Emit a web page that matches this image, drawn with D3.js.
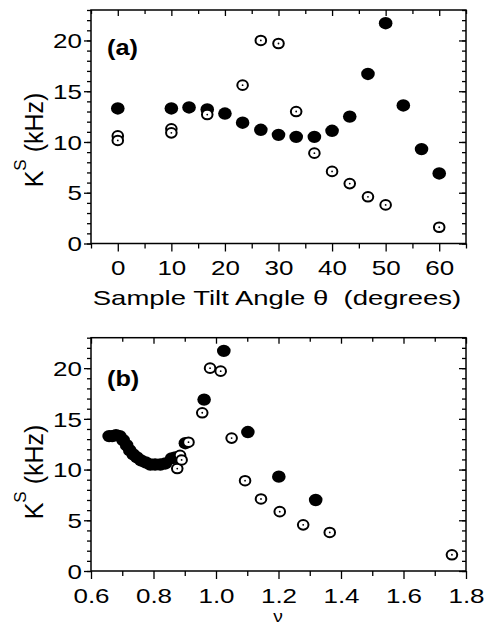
<!DOCTYPE html>
<html>
<head>
<meta charset="utf-8">
<script src="https://cdn.jsdelivr.net/npm/d3@7"></script>
<style>
  body { margin: 0; background: #fff; }
  svg { display: block; font-family: "Liberation Sans", Arial, Helvetica, sans-serif; }
</style>
</head>
<body>
<svg id="chart" width="488" height="625"></svg>
<script>
// Panel (a): K^S versus sample tilt angle
const thetaFilled = [0, 10, 13.3, 16.7, 20, 23.3, 26.7, 30, 33.3, 36.7, 40, 43.3, 46.7, 50, 53.3, 56.7, 60];
const ksFilledA   = [13.3, 13.3, 13.4, 13.2, 12.8, 11.9, 11.2, 10.7, 10.5, 10.5, 11.1, 12.5, 16.7, 21.7, 13.6, 9.3, 6.9];
const thetaOpen   = [0, 0, 10, 10, 16.7, 23.3, 26.7, 30, 33.3, 36.7, 40, 43.3, 46.7, 50, 60];
const ksOpenA     = [10.6, 10.15, 11.3, 10.9, 12.7, 15.6, 20.0, 19.7, 13.0, 8.9, 7.1, 5.9, 4.6, 3.8, 1.6];

// Panel (b): K^S versus nu
const nuFilled  = [0.658, 0.668, 0.680, 0.692, 0.703, 0.714, 0.724, 0.735, 0.747, 0.760, 0.775, 0.790, 0.805, 0.822, 0.838, 0.858, 0.870, 0.902, 0.962, 1.025, 1.102, 1.201, 1.319];
const ksFilledB = [13.3, 13.3, 13.4, 13.3, 12.9, 12.4, 11.9, 11.5, 11.2, 10.9, 10.7, 10.5, 10.5, 10.5, 10.6, 11.1, 11.2, 12.6, 16.9, 21.7, 13.7, 9.3, 7.0];
const nuOpen    = [0.876, 0.885, 0.890, 0.912, 0.956, 0.981, 1.015, 1.050, 1.093, 1.144, 1.204, 1.279, 1.364, 1.755];
const ksOpenB   = [10.1, 11.4, 10.95, 12.7, 15.6, 20.0, 19.7, 13.1, 8.9, 7.1, 5.85, 4.55, 3.8, 1.6];

// Ticks
const thetaTicks      = [0, 10, 20, 30, 40, 50, 60];
const thetaMinorTicks = [-5, 5, 15, 25, 35, 45, 55, 65];
const nuTicks         = [0.6, 0.8, 1.0, 1.2, 1.4, 1.6, 1.8];
const nuMinorTicks    = [0.7, 0.9, 1.1, 1.3, 1.5, 1.7];
const ksTicks         = [0, 5, 10, 15, 20];
const ksMinorTicks    = d3.range(0, 24, 1);

const LEFT = 91;
const RIGHT = 466;
const TEXT_STRETCH = 1.3;

const svg = d3.select('#chart');

function drawPanel(cfg) {
    const width = RIGHT - LEFT;
    const height = cfg.bottom - cfg.top;

    const x = d3.scaleLinear().domain(cfg.xDomain).range([0, width]);
    const y = d3.scaleLinear().domain([0, 23]).range([height, 0]);

    const g = svg.append('g').attr('transform', `translate(${LEFT},${cfg.top})`);

    // ticks on all four sides
    const axes = [
        { axis: d3.axisBottom(x).tickValues(cfg.xTicks).tickSize(8).tickFormat(cfg.xFormat), pos: `translate(0,${height})`, labels: 'bottom' },
        { axis: d3.axisBottom(x).tickValues(cfg.xMinor).tickSize(5).tickFormat(''), pos: `translate(0,${height})` },
        { axis: d3.axisTop(x).tickValues(cfg.xTicks).tickSize(-6).tickFormat(''), pos: 'translate(0,0)' },
        { axis: d3.axisTop(x).tickValues(cfg.xMinor).tickSize(-4).tickFormat(''), pos: 'translate(0,0)' },
        { axis: d3.axisLeft(y).tickValues(ksTicks).tickSize(7).tickFormat(d3.format('d')), pos: 'translate(0,0)', labels: 'left' },
        { axis: d3.axisLeft(y).tickValues(ksMinorTicks).tickSize(4).tickFormat(''), pos: 'translate(0,0)' },
        { axis: d3.axisRight(y).tickValues(ksTicks).tickSize(-7).tickFormat(''), pos: `translate(${width},0)` },
        { axis: d3.axisRight(y).tickValues(ksMinorTicks).tickSize(-4).tickFormat(''), pos: `translate(${width},0)` }
    ];

    axes.forEach(a => {
        const ag = g.append('g').attr('transform', a.pos).call(a.axis);
        ag.select('.domain').remove();
        ag.selectAll('line').attr('stroke', '#000').attr('stroke-width', 1.3);
        const txt = ag.selectAll('text')
            .attr('fill', '#000')
            .attr('font-size', 20)
            .attr('font-family', null);
        if (a.labels === 'bottom') {
            txt.attr('y', 32).attr('dy', 0)
                .attr('transform', `scale(${TEXT_STRETCH},1)`);
        } else if (a.labels === 'left') {
            txt.attr('x', -9 / TEXT_STRETCH).attr('dy', '0.36em')
                .attr('transform', `scale(${TEXT_STRETCH},1)`);
        }
    });

    // frame
    g.append('rect')
        .attr('width', width)
        .attr('height', height)
        .attr('fill', 'none')
        .attr('stroke', '#000')
        .attr('stroke-width', 1.5);

    // filled symbols
    g.selectAll('.filled')
        .data(d3.zip(cfg.filledX, cfg.filledY))
        .join('ellipse')
        .attr('class', 'filled')
        .attr('cx', d => x(d[0]))
        .attr('cy', d => y(d[1]))
        .attr('rx', 6.8)
        .attr('ry', 6.2)
        .attr('fill', '#000');

    // open symbols with a centre dot
    const open = g.selectAll('.open')
        .data(d3.zip(cfg.openX, cfg.openY))
        .join('g')
        .attr('class', 'open')
        .attr('transform', d => `translate(${x(d[0])},${y(d[1])})`);
    open.append('ellipse')
        .attr('rx', 5.3)
        .attr('ry', 4.8)
        .attr('fill', '#fff')
        .attr('stroke', '#000')
        .attr('stroke-width', 2);
    open.append('circle')
        .attr('r', 0.9)
        .attr('fill', '#000');

    // panel tag
    g.append('text')
        .attr('transform', `translate(16,${cfg.tagY}) scale(1.15,1)`)
        .attr('font-size', 22)
        .attr('font-weight', 'bold')
        .text(cfg.tag);

    // y axis title
    const yt = svg.append('text')
        .attr('transform', `translate(43,${cfg.yTitleY}) rotate(-90)`)
        .attr('text-anchor', 'middle')
        .attr('font-size', 25);
    yt.append('tspan').text('K');
    yt.append('tspan').attr('font-size', 17).attr('dy', -17).text('S');
    yt.append('tspan').attr('dy', 17).text(' (kHz)');

    // x axis title
    svg.append('text')
        .attr('transform', `translate(${cfg.xTitleX},${cfg.xTitleY}) scale(${cfg.xTitleStretch},1)`)
        .attr('text-anchor', 'middle')
        .attr('font-size', cfg.xTitleSize)
        .text(cfg.xTitle);
}

drawPanel({
    top: 10,
    bottom: 243.5,
    xDomain: [-5, 65],
    xTicks: thetaTicks,
    xMinor: thetaMinorTicks,
    xFormat: d3.format('d'),
    filledX: thetaFilled,
    filledY: ksFilledA,
    openX: thetaOpen,
    openY: ksOpenA,
    tag: '(a)',
    tagY: 45,
    yTitleY: 140,
    xTitle: 'Sample Tilt Angle \u03b8\u00a0 (degrees)',
    xTitleX: 277,
    xTitleY: 305,
    xTitleSize: 21,
    xTitleStretch: 1.31
});

drawPanel({
    top: 337.7,
    bottom: 571,
    xDomain: [0.6, 1.8],
    xTicks: nuTicks,
    xMinor: nuMinorTicks,
    xFormat: d3.format('.1f'),
    filledX: nuFilled,
    filledY: ksFilledB,
    openX: nuOpen,
    openY: ksOpenB,
    tag: '(b)',
    tagY: 48,
    yTitleY: 472,
    xTitle: '\u03bd',
    xTitleX: 278,
    xTitleY: 621.5,
    xTitleSize: 16,
    xTitleStretch: 1.2
});
</script>
</body>
</html>
